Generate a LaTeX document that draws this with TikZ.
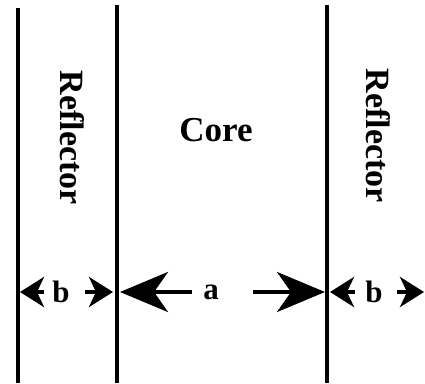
\documentclass[tikz,border=0pt]{standalone}
\usepackage{fontspec}
\setmainfont{Liberation Serif}
\usetikzlibrary{arrows.meta,positioning}

\tikzset{
  wall/.style={line width=4pt},
  bigdim/.style={line width=4pt, -{Stealth[length=48pt,width=40pt,inset=14pt]}},
  smalldim/.style={line width=4pt, -{Stealth[length=24pt,width=30pt,inset=7pt]}},
  zone/.style={font=\fontsize{34}{34}\selectfont\bfseries, inner sep=0pt},
  dimtext/.style={font=\fontsize{31}{31}\selectfont\bfseries, inner sep=0pt}
}

\begin{document}
\begin{tikzpicture}[x=1pt,y=-1pt]
		\useasboundingbox (0,0) rectangle (425,383);
		% walls
		\draw [wall] (18,8) -- (18,383);
		\draw [wall] (117,5) -- (117,383);
		\draw [wall] (327,5) -- (327,383);
		% labels
		\node [zone, rotate=-90] (reflL) at (72,138) {Reflector};
		\node [zone, rotate=-90] (reflR) at (378,136) {Reflector};
		\node [zone, font=\fontsize{35}{35}\selectfont\bfseries] (core) at (216,130) {Core};
		\node [dimtext] (bL) at (61,292) {b};
		\node [dimtext] (a) at (211,292) {a};
		\node [dimtext] (bR) at (374,292) {b};
		% dimension ends
		\coordinate (tip1) at (20,292);
		\coordinate (tip2) at (113,292);
		\coordinate (tip3) at (120,292);
		\coordinate (tip4) at (325,292);
		\coordinate (tip5) at (330,292);
		\coordinate (tip6) at (424,292);
		\coordinate (s1) at (44,292);
		\coordinate (s2) at (85,292);
		\coordinate (s3) at (192,292);
		\coordinate (s4) at (253,292);
		\coordinate (s5) at (355,292);
		\coordinate (s6) at (397,292);
		\draw [smalldim] (s1) -- (tip1);
		\draw [smalldim] (s2) -- (tip2);
		\draw [bigdim] (s3) -- (tip3);
		\draw [bigdim] (s4) -- (tip4);
		\draw [smalldim] (s5) -- (tip5);
		\draw [smalldim] (s6) -- (tip6);
	\end{tikzpicture}
\end{document}
